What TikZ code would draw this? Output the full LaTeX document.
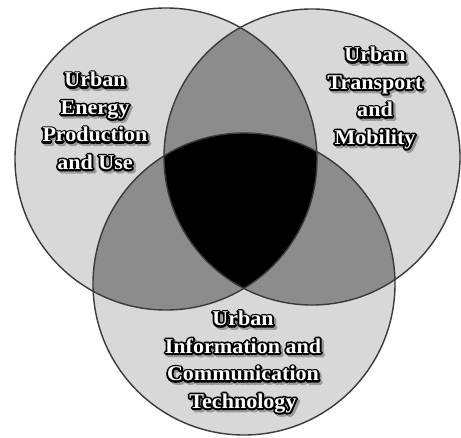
\documentclass[tikz,border=0pt]{standalone}
\usepackage{fontspec}
\usetikzlibrary{calc}
\newfontfamily\lblfont[FakeStretch=1.05]{Liberation Serif}
\definecolor{outerg}{HTML}{D8D8D8}
\definecolor{midg}{HTML}{8C8C8C}
\definecolor{edgeg}{HTML}{3A3A3A}
\definecolor{shadg}{HTML}{9A9A9A}
\newcommand\txtL{Urban\\Energy\\Production\\and Use}
\newcommand\txtR{Urban\\Transport\\and\\Mobility}
\newcommand\txtB{Urban\\Information and\\Communication\\Technology}
\newcommand\strk[1]{\special{pdf:literal direct 2 Tr #1 w 1 j}}
\tikzset{
  lbl/.style={font=\lblfont\bfseries\fontsize{21}{27.5}\selectfont, align=center, inner sep=0pt, text=white},
  ring/.style={draw=edgeg, line width=1.4pt},
}
\newcommand\haloed[3]{% name, position, text
  \node[lbl, text=shadg] at ($(#2)+(2.2,2.2)$) {\strk{3.8}#3};
  \node[lbl, text=black] at (#2) {\strk{3.8}#3};
  \node[lbl] (#1) at (#2) {#3};
}
\begin{document}
\begin{tikzpicture}[x=1pt,y=-1pt]
\useasboundingbox[fill=white] (0,0) rectangle (461,438);
\coordinate (cL) at (166,159);
\coordinate (cR) at (312,157);
\coordinate (cB) at (244,284);
\def\rL{151pt}\def\rR{148pt}\def\rB{151pt}
% outer fills
\fill[outerg] (cL) circle[radius=\rL];
\fill[outerg] (cR) circle[radius=\rR];
\fill[outerg] (cB) circle[radius=\rB];
% pairwise overlaps
\begin{scope}\clip (cL) circle[radius=\rL]; \fill[midg] (cR) circle[radius=\rR];\end{scope}
\begin{scope}\clip (cL) circle[radius=\rL]; \fill[midg] (cB) circle[radius=\rB];\end{scope}
\begin{scope}\clip (cR) circle[radius=\rR]; \fill[midg] (cB) circle[radius=\rB];\end{scope}
% triple overlap
\begin{scope}\clip (cL) circle[radius=\rL]; \clip (cR) circle[radius=\rR]; \fill[black] (cB) circle[radius=\rB];\end{scope}
% outlines
\draw[ring] (cL) circle[radius=\rL];
\draw[ring] (cR) circle[radius=\rR];
\draw[ring] (cB) circle[radius=\rB];
% labels
\coordinate (pL) at (95,121);
\coordinate (pR) at (375,98);
\coordinate (pB) at (243,362);
\haloed{energy}{pL}{\txtL}
\haloed{transport}{pR}{\txtR}
\haloed{ict}{pB}{\txtB}
\end{tikzpicture}
\end{document}
